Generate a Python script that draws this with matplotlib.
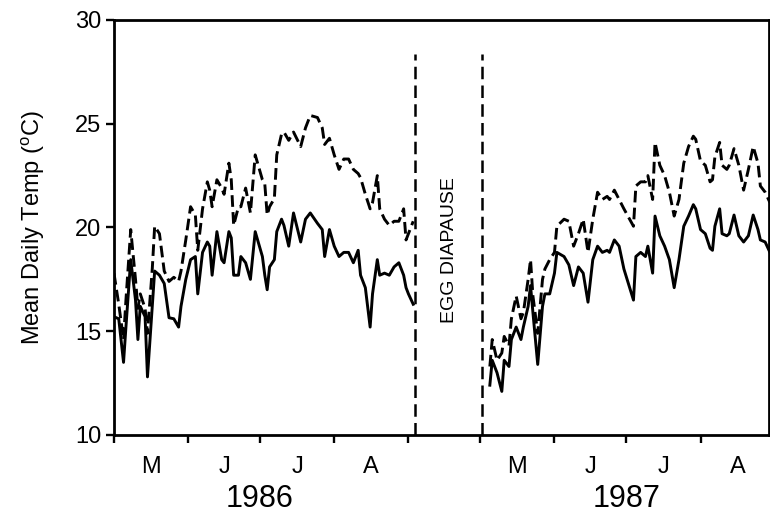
import matplotlib.pyplot as plt
import numpy as np

plt.rcParams['font.family'] = ['Liberation Sans', 'DejaVu Sans']

# days since 1 May
days_86 = [0, 2, 4, 5, 7, 9, 10, 11, 13, 14, 16, 17, 19, 21, 23, 25, 27, 28, 30, 32,
           34, 35, 37, 39, 40, 41, 43, 45, 46, 48, 49, 50, 52, 53, 55, 57, 59, 62, 63, 64,
           65, 67, 68, 70, 71, 73, 75, 78, 80, 82, 85, 87, 88, 90, 92, 94, 96, 98, 100, 102,
           103, 105, 107, 108, 110, 111, 113, 115, 117, 119, 121, 122, 123, 125]
solid_86 = [15.7, 15.6, 13.5, 15.2, 18.45, 16.5, 14.6, 16.2, 15.7, 12.8, 16.2, 17.9, 17.7, 17.3, 15.65, 15.6, 15.2, 16.2, 17.5, 18.45,
            18.6, 16.8, 18.8, 19.3, 19.1, 17.7, 19.8, 18.45, 18.3, 19.8, 19.5, 17.7, 17.7, 18.6, 18.3, 17.5, 19.8, 18.6, 17.7, 17.0,
            18.1, 18.45, 19.8, 20.4, 20.1, 19.1, 20.7, 19.3, 20.4, 20.7, 20.2, 19.9, 18.6, 19.9, 19.1, 18.6, 18.8, 18.8, 18.3, 18.9,
            17.7, 17.1, 15.2, 16.8, 18.45, 17.7, 17.8, 17.7, 18.1, 18.3, 17.7, 17.1, 16.8, 16.3]
dashed_86 = [17.8, 16.3, 14.6, 16.5, 19.9, 17.5, 16.1, 16.8, 16.1, 14.9, 18.0, 20.06, 19.7, 17.9, 17.4, 17.6, 17.4, 17.9, 19.4, 21.0,
             20.6, 18.9, 20.9, 22.2, 21.8, 21.0, 22.3, 21.9, 21.6, 23.1, 22.3, 20.1, 21.0, 21.0, 21.9, 20.7, 23.5, 22.3, 22.1, 20.6,
             21.0, 21.4, 23.5, 24.5, 24.6, 24.2, 24.6, 23.9, 24.8, 25.4, 25.3, 24.8, 24.0, 24.3, 23.5, 22.8, 23.3, 23.3, 22.8, 22.6,
             22.4, 21.6, 20.9, 21.2, 22.5, 20.9, 20.4, 20.1, 20.3, 20.3, 20.9, 19.4, 19.7, 20.3]

days_87 = [4, 5, 7, 9, 10, 12, 13, 15, 17, 18, 20, 21, 22, 24, 26, 27, 29, 31, 32, 35,
           37, 39, 41, 43, 45, 47, 49, 51, 53, 54, 56, 58, 60, 64, 65, 67, 69, 70, 72, 73,
           75, 77, 79, 81, 83, 85, 87, 89, 90, 92, 94, 96, 97, 98, 100, 101, 103, 104, 106, 108,
           110, 112, 114, 116, 117, 119, 121]
solid_87 = [12.4, 13.6, 13.0, 12.1, 13.6, 13.3, 14.6, 15.2, 14.6, 15.2, 16.2, 17.2, 15.9, 13.4, 16.2, 16.8, 16.8, 17.8, 18.8, 18.6,
            18.2, 17.2, 18.1, 17.8, 16.4, 18.45, 19.1, 18.8, 18.9, 18.8, 19.4, 19.1, 18.0, 16.5, 18.6, 18.8, 18.6, 19.1, 17.8, 20.55,
            19.6, 19.1, 18.45, 17.1, 18.45, 20.06, 20.55, 21.1, 20.9, 19.9, 19.7, 19.0, 18.9, 20.06, 20.9, 19.7, 19.6, 19.7, 20.6, 19.6,
            19.3, 19.6, 20.6, 19.9, 19.4, 19.3, 18.8]
dashed_87 = [13.3, 14.6, 13.6, 13.95, 14.75, 14.3, 15.6, 16.7, 15.6, 15.9, 17.5, 18.45, 16.7, 14.9, 17.5, 18.0, 18.45, 18.8, 20.06, 20.4,
             20.3, 19.1, 19.7, 20.4, 18.8, 20.4, 21.7, 21.35, 21.5, 21.35, 21.8, 21.35, 20.9, 20.06, 22.0, 22.2, 22.2, 22.5, 21.35, 24.1,
             23.0, 22.5, 21.7, 20.55, 21.35, 23.1, 23.9, 24.4, 24.25, 23.2, 23.0, 22.2, 22.3, 23.4, 24.1, 23.0, 22.8, 23.0, 23.8, 23.0,
             21.8, 22.8, 23.9, 23.1, 22.0, 21.7, 21.2]

offset_87 = 153  # where 1 May 1987 sits on the compressed axis
month_starts = [0, 31, 61, 92, 123]
month_names = ['M', 'J', 'J', 'A']
diapause = [125.6, 153.9]

fig = plt.figure(figsize=(7.7, 5.22), dpi=100)
ax = fig.add_axes([0.148, 0.1667, 0.851, 0.795])

ax.plot(days_86, solid_86, color='black', lw=2.1)
ax.plot(days_86, dashed_86, color='black', lw=2.1, ls=(0, (4, 1.8)))
x87 = np.array(days_87) + offset_87
ax.plot(x87, solid_87, color='black', lw=2.1)
ax.plot(x87, dashed_87, color='black', lw=2.1, ls=(0, (4, 1.8)))

for xv in diapause:
    ax.plot([xv, xv], [10, 28.35], color='black', lw=1.8, ls=(0, (5, 2.5)))
ax.text(140.2, 18.9, 'EGG DIAPAUSE', rotation=90, ha='center', va='center', fontsize=14)

ax.set_xlim(0, 273.7)
ax.set_ylim(10, 30)
ax.set_yticks([10, 15, 20, 25, 30])
ax.tick_params(axis='y', labelsize=17, width=1.7, length=6, direction='out', pad=3)

major = month_starts + [offset_87 + m for m in month_starts[:4]]
ax.set_xticks(major)
ax.set_xticklabels([])
mids = [(month_starts[i] + month_starts[i + 1]) / 2 for i in range(4)]
minor = mids + [offset_87 + m for m in mids]
ax.set_xticks(minor, minor=True)
ax.set_xticklabels(month_names * 2, minor=True)
ax.tick_params(axis='x', which='major', width=1.7, length=6, direction='out')
ax.tick_params(axis='x', which='minor', length=0, pad=15, labelsize=17)

for sp in ax.spines.values():
    sp.set_linewidth(2)

ax.text(61, -0.155, '1986', transform=ax.get_xaxis_transform(), ha='center', va='center', fontsize=22)
ax.text(offset_87 + 61, -0.155, '1987', transform=ax.get_xaxis_transform(), ha='center', va='center', fontsize=22)
ax.set_ylabel('Mean Daily Temp ($^{\\mathregular{o}}$C)', fontsize=17, labelpad=20)

fig.savefig('out.png', dpi=100)
